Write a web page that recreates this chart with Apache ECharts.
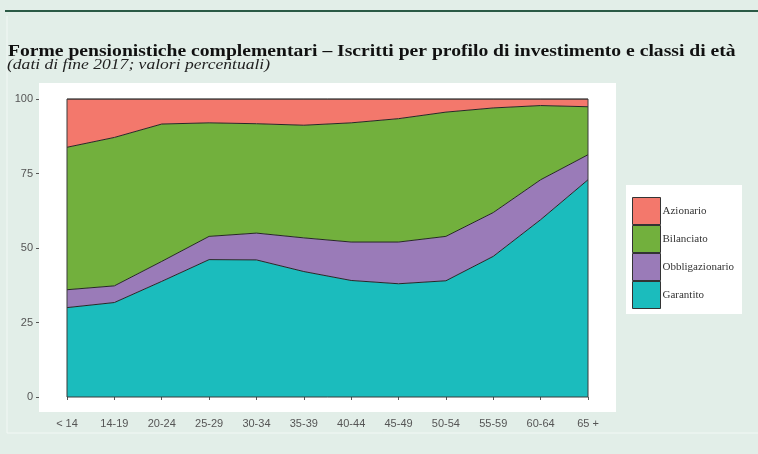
<!DOCTYPE html>
<html>
<head>
<meta charset="utf-8">
<title>Forme pensionistiche complementari</title>
<script src="https://cdn.jsdelivr.net/npm/echarts@6/dist/echarts.min.js"></script>
<style>
  html, body { margin: 0; padding: 0; background: #e2eee8; }
  #chart { width: 758px; height: 454px; }
</style>
</head>
<body>
<div id="chart"></div>
<script>
// age classes and shares (percent) per investment profile, end 2017
const categories = ['< 14', '14-19', '20-24', '25-29', '30-34', '35-39', '40-44', '45-49', '50-54', '55-59', '60-64', '65 +'];
const garantito = [30.0, 31.7, 38.8, 46.1, 46.0, 42.1, 39.1, 38.0, 39.0, 47.2, 59.5, 72.9];
const obbligazionario = [6.0, 5.6, 6.7, 7.8, 9.0, 11.3, 12.9, 14.0, 14.9, 14.7, 13.4, 8.4];
const bilanciato = [47.8, 49.8, 46.1, 38.1, 36.7, 37.8, 40.0, 41.4, 41.7, 35.1, 24.9, 16.1];
const azionario = [16.2, 12.9, 8.4, 8.0, 8.3, 8.8, 8.0, 6.6, 4.4, 3.0, 2.2, 2.6];
const yTicks = [0, 25, 50, 75, 100];

const colors = {
  Azionario: '#f3786c',
  Bilanciato: '#72b03d',
  Obbligazionario: '#9a7bb8',
  Garantito: '#1bbcbd',
};

// plot rectangle (data area) and the white panel around it
const plot = { left: 67, top: 99, right: 588, bottom: 397 };
const panel = { x: 39, y: 83, width: 577, height: 329 };

const chart = echarts.init(document.getElementById('chart'), null, { renderer: 'canvas' });

function areaSeries(name, data) {
  return {
    name: name,
    type: 'line',
    stack: 'total',
    data: data,
    symbol: 'none',
    smooth: false,
    itemStyle: { color: colors[name] },
    lineStyle: { color: '#262626', width: 1 },
    areaStyle: { color: colors[name], opacity: 1 },
    emphasis: { disabled: true },
    animation: false,
  };
}

chart.setOption({
  backgroundColor: '#e2eee8',
  graphic: [
    { type: 'rect', shape: { x: 5, y: 10, width: 753, height: 2 }, style: { fill: '#2b5a46' }, z: 0 },
    { type: 'line', shape: { x1: 7, y1: 16, x2: 7, y2: 433 }, style: { stroke: '#f2f8f5', lineWidth: 1 }, z: 0 },
    { type: 'line', shape: { x1: 7, y1: 433, x2: 758, y2: 433 }, style: { stroke: '#f2f8f5', lineWidth: 1 }, z: 0 },
    { type: 'rect', shape: panel, style: { fill: '#ffffff' }, z: 0 },
    {
      type: 'rect',
      shape: { x: plot.left, y: plot.top, width: plot.right - plot.left, height: plot.bottom - plot.top },
      style: { fill: 'none', stroke: '#3a3a3a', lineWidth: 1 },
      z: 100,
    },
    // title and subtitle, stretched a little to the width of the original type
    {
      type: 'text',
      x: 8,
      y: 43,
      scaleX: 1.154,
      style: {
        text: 'Forme pensionistiche complementari \u2013 Iscritti per profilo di investimento e classi di età',
        fontFamily: 'Liberation Serif',
        fontWeight: 'bold',
        fontSize: 17,
        fill: '#111',
        verticalAlign: 'top',
      },
      z: 10,
    },
    {
      type: 'text',
      x: 7,
      y: 58,
      scaleX: 1.17,
      style: {
        text: '(dati di fine 2017; valori percentuali)',
        fontFamily: 'Liberation Serif',
        fontStyle: 'italic',
        fontSize: 15,
        fill: '#222',
        verticalAlign: 'top',
      },
      z: 10,
    },
  ],
  legend: {
    orient: 'vertical',
    left: 626,
    top: 185,
    padding: [12, 8, 5, 6],
    backgroundColor: '#ffffff',
    icon: 'rect',
    itemWidth: 28,
    itemHeight: 27,
    itemGap: 0,
    selectedMode: false,
    data: ['Azionario', 'Bilanciato', 'Obbligazionario', 'Garantito'],
    itemStyle: { borderColor: '#333', borderWidth: 1 },
    textStyle: { fontFamily: 'Liberation Serif', fontSize: 11, color: '#333', padding: [0, 0, 0, -3] },
  },
  grid: {
    left: plot.left,
    top: plot.top,
    right: 758 - plot.right,
    bottom: 454 - plot.bottom,
    containLabel: false,
  },
  xAxis: {
    type: 'category',
    data: categories,
    boundaryGap: false,
    offset: panel.y + panel.height - plot.bottom,
    axisLine: { show: false },
    axisTick: { show: true, length: 3, interval: 0, lineStyle: { color: '#555' } },
    axisLabel: { interval: 0, margin: 6, fontFamily: 'Liberation Sans', fontSize: 11, color: '#555' },
    splitLine: { show: false },
  },
  yAxis: {
    type: 'value',
    min: 0,
    max: 100,
    offset: plot.left - panel.x,
    axisLine: { show: false },
    axisTick: { show: true, length: 3, customValues: yTicks, lineStyle: { color: '#555' } },
    axisLabel: { margin: 6, customValues: yTicks, fontFamily: 'Liberation Sans', fontSize: 11, color: '#555' },
    splitLine: { show: false },
  },
  series: [
    areaSeries('Garantito', garantito),
    areaSeries('Obbligazionario', obbligazionario),
    areaSeries('Bilanciato', bilanciato),
    areaSeries('Azionario', azionario),
  ],
});
</script>
</body>
</html>
